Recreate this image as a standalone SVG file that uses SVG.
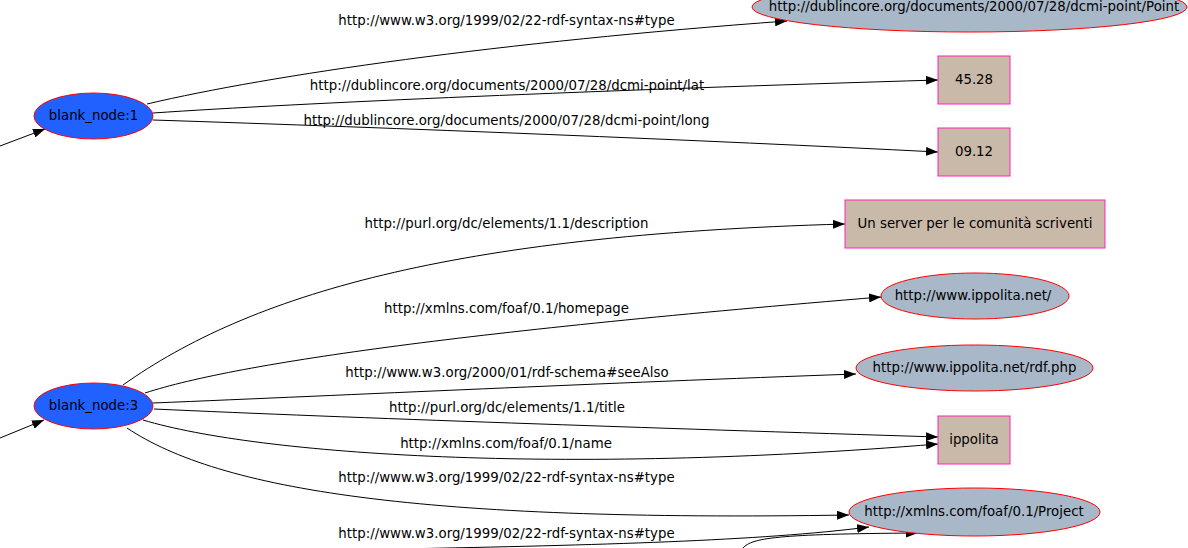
<svg xmlns="http://www.w3.org/2000/svg" width="1188" height="548" viewBox="0 0 1188 548">
<defs>
<style>
text{font-family:"DejaVu Sans","Liberation Sans",sans-serif;font-size:13.33px;fill:#000;text-anchor:middle}
.blank{fill:#2161ff;stroke:#ff0000;stroke-width:1}
.res{fill:#a8b8c8;stroke:#ff0000;stroke-width:1}
.lit{fill:#c9b9a9;stroke:#ff22bb;stroke-width:1}
.edge{fill:none;stroke:#000;stroke-width:1;marker-end:url(#ah)}
</style>
<marker id="ah" markerWidth="12" markerHeight="9" refX="12" refY="4.5" orient="auto" markerUnits="userSpaceOnUse">
<path d="M0,0 L12,4.5 L0,9 z" fill="#000"/>
</marker>
</defs>
<rect width="1188" height="548" fill="#fff"/>
<g id="connectors">
<path class="edge" d="M0,146 L45,129"/>
<path class="edge" d="M0,438 L44,420"/>
<path class="edge" d="M147,104 C270,75 500,42 787,21"/>
<path class="edge" d="M153,113 C300,103 600,90 938,80"/>
<path class="edge" d="M153,120 C400,128 700,140 938,152"/>
<path class="edge" d="M123,385 C250,295 450,235 845,224"/>
<path class="edge" d="M145,393 C240,362 480,330 881,297"/>
<path class="edge" d="M153,403 C350,395 600,383 856,374"/>
<path class="edge" d="M154,409 C350,418 650,428 938,437"/>
<path class="edge" d="M143,420 C260,455 560,475 938,444"/>
<path class="edge" d="M127,428 C220,490 420,522 849,515"/>
<path class="edge" d="M400,549 C600,545 760,541 869,527"/>
<path class="edge" d="M743,548 C752,538 775,534 918,533"/>
<text x="506.5" y="25">http://www.w3.org/1999/02/22-rdf-syntax-ns#type</text>
<text x="507" y="90">http://dublincore.org/documents/2000/07/28/dcmi-point/lat</text>
<text x="506.5" y="125">http://dublincore.org/documents/2000/07/28/dcmi-point/long</text>
<text x="506.5" y="228">http://purl.org/dc/elements/1.1/description</text>
<text x="506.5" y="313">http://xmlns.com/foaf/0.1/homepage</text>
<text x="507" y="377">http://www.w3.org/2000/01/rdf-schema#seeAlso</text>
<text x="507" y="412">http://purl.org/dc/elements/1.1/title</text>
<text x="506" y="448">http://xmlns.com/foaf/0.1/name</text>
<text x="506.5" y="482">http://www.w3.org/1999/02/22-rdf-syntax-ns#type</text>
<text x="506.5" y="538">http://www.w3.org/1999/02/22-rdf-syntax-ns#type</text>
</g>
<g id="blank_node_1">
<ellipse class="blank" cx="93.5" cy="116" rx="59.5" ry="23"/>
<text x="93.5" y="120">blank_node:1</text>
</g>
<g id="blank_node_3">
<ellipse class="blank" cx="93.5" cy="406" rx="59.5" ry="23"/>
<text x="93.5" y="410">blank_node:3</text>
</g>
<g id="point">
<ellipse class="res" cx="969.5" cy="7" rx="217.5" ry="25"/>
<text x="974" y="11">http://dublincore.org/documents/2000/07/28/dcmi-point/Point</text>
</g>
<g id="lat">
<rect class="lit" x="938" y="56" width="72" height="48"/>
<text x="974" y="84">45.28</text>
</g>
<g id="long">
<rect class="lit" x="938" y="128" width="72" height="48"/>
<text x="974" y="156">09.12</text>
</g>
<g id="description">
<rect class="lit" x="845" y="200" width="260" height="48"/>
<text x="975" y="228">Un server per le comunità scriventi</text>
</g>
<g id="homepage">
<ellipse class="res" cx="975" cy="296" rx="94" ry="23"/>
<text x="973" y="300">http://www.ippolita.net/</text>
</g>
<g id="seealso">
<ellipse class="res" cx="974.5" cy="368" rx="118.5" ry="23"/>
<text x="974.5" y="372">http://www.ippolita.net/rdf.php</text>
</g>
<g id="ippolita">
<rect class="lit" x="938" y="416" width="72" height="48"/>
<text x="974" y="444">ippolita</text>
</g>
<g id="project">
<ellipse class="res" cx="974.5" cy="512" rx="125.5" ry="24"/>
<text x="974" y="516">http://xmlns.com/foaf/0.1/Project</text>
</g>
</svg>
